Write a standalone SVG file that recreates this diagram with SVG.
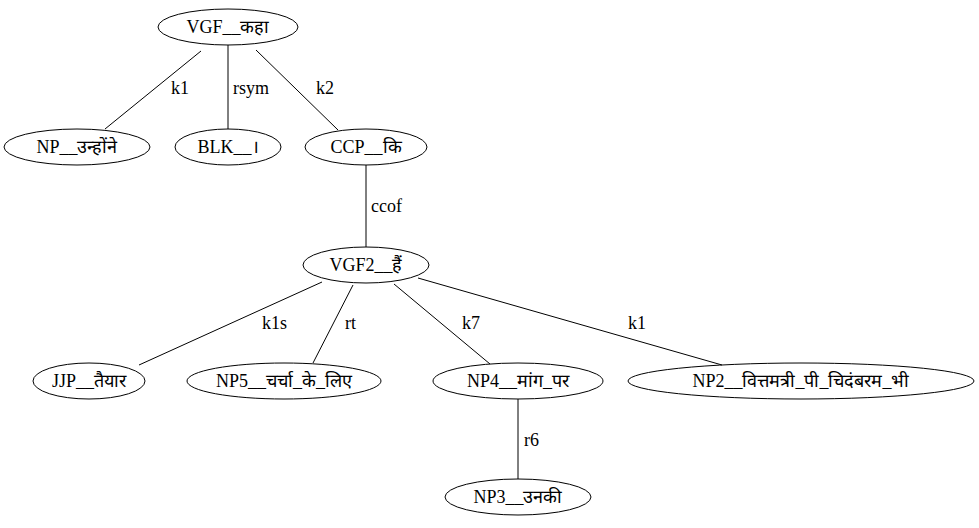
<svg xmlns="http://www.w3.org/2000/svg" width="979" height="528" viewBox="0 0 979 528">
<style>
.n ellipse{fill:none;stroke:#000;stroke-width:1}
text{font-family:'Liberation Serif',serif;font-size:18px;fill:#000}
.n text{text-anchor:middle}
#edges line{stroke:#000;stroke-width:1}
</style>
<rect width="979" height="528" fill="#fff"/>
<g id="edges">
<line x1="201" y1="51" x2="105" y2="129"/>
<text x="171" y="94">k1</text>
<line x1="228" y1="45" x2="228" y2="129"/>
<text x="233" y="94">rsym</text>
<line x1="256" y1="50" x2="338" y2="130"/>
<text x="316" y="94">k2</text>
<line x1="366" y1="165" x2="366" y2="247"/>
<text x="371" y="212">ccof</text>
<line x1="322" y1="282" x2="139" y2="365"/>
<text x="262" y="329">k1s</text>
<line x1="353" y1="285" x2="313" y2="363"/>
<text x="345" y="329">rt</text>
<line x1="394" y1="284" x2="490" y2="364"/>
<text x="462" y="329">k7</text>
<line x1="418" y1="278" x2="722" y2="365"/>
<text x="628" y="329">k1</text>
<line x1="518" y1="399" x2="518" y2="479"/>
<text x="524" y="446">r6</text>
</g>
<g id="VGF" class="n"><ellipse cx="228" cy="27" rx="70" ry="18"/><text x="228" y="33">VGF__कहा</text></g>
<g id="NP" class="n"><ellipse cx="77" cy="147" rx="73" ry="18"/><text x="77" y="153">NP__उन्होंने</text></g>
<g id="BLK" class="n"><ellipse cx="228" cy="147" rx="53" ry="18"/><text x="228" y="153">BLK__।</text></g>
<g id="CCP" class="n"><ellipse cx="366" cy="147" rx="61" ry="18"/><text x="366" y="153">CCP__कि</text></g>
<g id="VGF2" class="n"><ellipse cx="366" cy="265" rx="63" ry="18"/><text x="366" y="271">VGF2__हैं</text></g>
<g id="JJP" class="n"><ellipse cx="89" cy="381" rx="56" ry="18"/><text x="89" y="387">JJP__तैयार</text></g>
<g id="NP5" class="n"><ellipse cx="284" cy="381" rx="97" ry="18"/><text x="284" y="387">NP5__चर्चा_के_लिए</text></g>
<g id="NP4" class="n"><ellipse cx="518" cy="381" rx="85" ry="18"/><text x="518" y="387">NP4__मांग_पर</text></g>
<g id="NP2" class="n"><ellipse cx="801" cy="381" rx="173" ry="18"/><text x="801" y="387">NP2__वित्तमत्री_पी_चिदंबरम_भी</text></g>
<g id="NP3" class="n"><ellipse cx="518" cy="497" rx="73" ry="18"/><text x="518" y="503">NP3__उनकी</text></g>
</svg>
